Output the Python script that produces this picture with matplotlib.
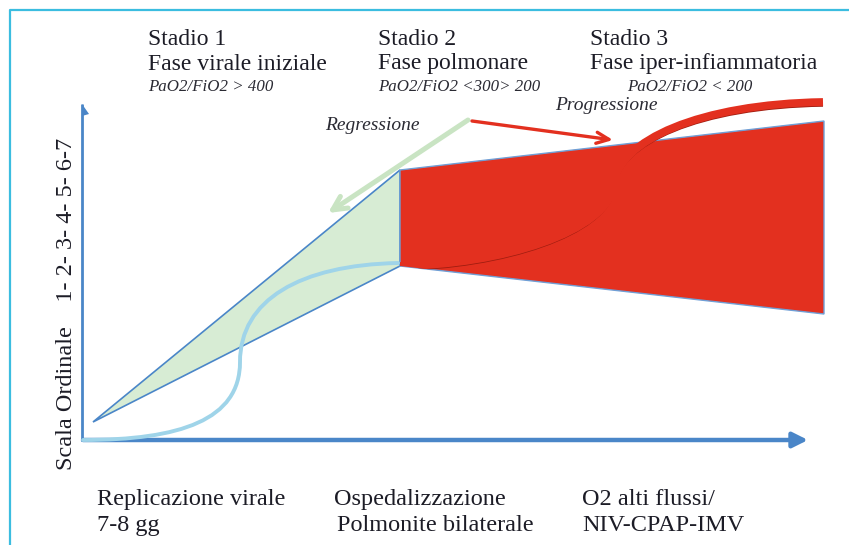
import matplotlib
matplotlib.use("Agg")
import matplotlib.pyplot as plt
from matplotlib.path import Path
from matplotlib.patches import PathPatch, Polygon

# ---- data (diagram coordinates, pixel space of the original figure) ----
stage_titles = ["Stadio 1", "Stadio 2", "Stadio 3"]
stage_phases = ["Fase virale iniziale", "Fase polmonare", "Fase iper-infiammatoria"]
stage_ratios = ["PaO2/FiO2 > 400", "PaO2/FiO2 <300> 200", "PaO2/FiO2 < 200"]
stage_x = [148, 378, 590]
ratio_x = [148, 378, 627]
bottom_line1 = ["Replicazione virale", "Ospedalizzazione", "O2 alti flussi/"]
bottom_line2 = ["7-8 gg", "Polmonite bilaterale", "NIV-CPAP-IMV"]
bottom_x1 = [97, 334, 582]
bottom_x2 = [97, 337, 582]
y_label = "Scala Ordinale    1- 2- 3- 4- 5- 6-7"

green_x = [93, 400, 400]
green_y = [422, 170, 266]
red_x = [400, 824, 824, 400]
red_y = [170, 121, 314, 266]

blue_curve_x = [83, 180, 240, 240, 240, 300, 398]
blue_curve_y = [440, 440, 420, 362, 300, 265, 263]
red_curve_x = [400, 500, 608, 614, 618, 700, 823]
red_curve_y = [266, 265, 232, 185, 140, 104, 102]

regress_from = (468, 120)
regress_to = (328, 213)
progress_from = (472, 121)
progress_to = (613, 140)

fig = plt.figure(figsize=(8.49, 5.45), dpi=100)
ax = fig.add_axes([0, 0, 1, 1])
ax.set_xlim(0, 849)
ax.set_ylim(545, 0)
ax.axis("off")

# frame
ax.plot([10, 10, 849], [545, 9.5, 9.5], color="#3bbde0", lw=1.6, solid_capstyle="butt")

axis_col = "#4a86c8"
# y axis with half arrow head
ax.plot([82.5, 82.5], [441, 104], color=axis_col, lw=2.0, solid_capstyle="butt")
ax.add_patch(Polygon([[82, 104], [89, 114], [82, 116]], closed=True, color=axis_col, lw=0))
# x axis
ax.annotate("", xy=(808, 440), xytext=(83, 440),
            arrowprops=dict(arrowstyle="-|>,head_length=0.9,head_width=0.45",
                            color=axis_col, lw=3.2, shrinkA=0, shrinkB=0))

# green triangle
ax.add_patch(Polygon(list(zip(green_x, green_y)), closed=True,
                     facecolor="#d7ecd4", edgecolor=axis_col, lw=1.2, zorder=2))
# red trapezoid
ax.add_patch(Polygon(list(zip(red_x, red_y)), closed=True,
                     facecolor="#e3301f", edgecolor="#6f9fd6", lw=1.0, zorder=3))

codes = [Path.MOVETO, Path.CURVE4, Path.CURVE4, Path.CURVE4,
         Path.CURVE4, Path.CURVE4, Path.CURVE4]
# light blue S curve
ax.add_patch(PathPatch(Path(list(zip(blue_curve_x, blue_curve_y)), codes),
                       facecolor="none", edgecolor="#9fd4e9", lw=2.8, zorder=4,
                       capstyle="round"))

# clip region: everything above the trapezoid's bottom edge
clip_poly = Polygon([(red_x[0], 0), (red_x[1], 0), (red_x[2], red_y[2]), (red_x[3], red_y[3])],
                    closed=True, transform=ax.transData, facecolor="none", edgecolor="none")
ax.add_patch(clip_poly)

# red S curve: shadow + thick line
shadow = PathPatch(Path([(x, y + 3.5) for x, y in zip(red_curve_x, red_curve_y)], codes),
                   facecolor="none", edgecolor="#a01d10", lw=1.8, zorder=4)
ax.add_patch(shadow)
shadow.set_clip_path(clip_poly)
thick = PathPatch(Path(list(zip(red_curve_x, red_curve_y)), codes),
                  facecolor="none", edgecolor="#e3301f", lw=5.6, zorder=5, capstyle="butt")
ax.add_patch(thick)
thick.set_clip_path(clip_poly)

# arrows
ax.annotate("", xy=regress_to, xytext=regress_from,
            arrowprops=dict(arrowstyle="->,head_length=1.0,head_width=0.5",
                            color="#c9e4c3", lw=3.6, shrinkA=0, shrinkB=0), zorder=3)
ax.annotate("", xy=progress_to, xytext=progress_from,
            arrowprops=dict(arrowstyle="->,head_length=0.9,head_width=0.4",
                            color="#e3301f", lw=2.4, shrinkA=0, shrinkB=0), zorder=6)

serif = ["Liberation Serif", "DejaVu Serif"]
txt_col = "#1c1c26"
fs = 17.0
for t, p, r, x, rx in zip(stage_titles, stage_phases, stage_ratios, stage_x, ratio_x):
    ax.text(x, 45, t, family=serif, fontsize=fs, color=txt_col, ha="left", va="baseline")
    ax.text(x, 69.5, p, family=serif, fontsize=fs, color=txt_col, ha="left", va="baseline")
    ax.text(rx, 91, r, family=serif, fontsize=12.2, style="italic", color="#2a2a33",
            ha="left", va="baseline")

ax.text(555, 110, "Progressione", family=serif, fontsize=14, style="italic",
        color="#2a2a33", ha="left", va="baseline")
ax.text(325, 130, "Regressione", family=serif, fontsize=14, style="italic",
        color="#2a2a33", ha="left", va="baseline")

ax.text(67, 304, y_label, family=serif, fontsize=17.5, color=txt_col, rotation=90,
        ha="center", va="center")

for a, b, x1, x2 in zip(bottom_line1, bottom_line2, bottom_x1, bottom_x2):
    ax.text(x1, 505, a, family=serif, fontsize=17.5, color=txt_col, ha="left", va="baseline")
    ax.text(x2, 531, b, family=serif, fontsize=17.5, color=txt_col, ha="left", va="baseline")

fig.savefig("out.png", dpi=100)
